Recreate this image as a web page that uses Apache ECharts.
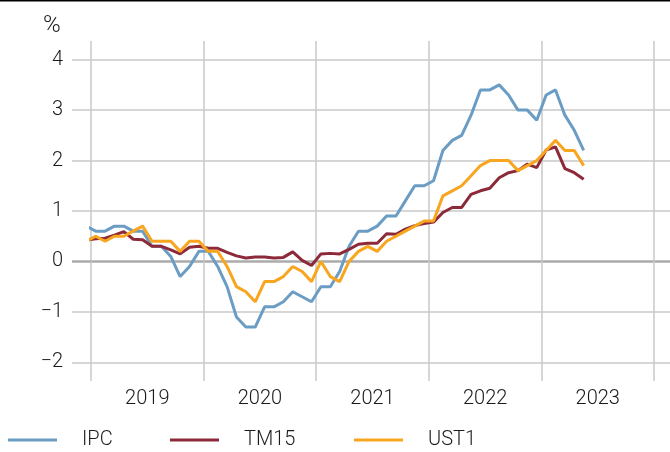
<!DOCTYPE html>
<html>
<head>
<meta charset="utf-8">
<script src="https://cdn.jsdelivr.net/npm/echarts@6/dist/echarts.min.js"></script>
<style>
    html, body {margin: 0; padding: 0; background: #fff;}
    #chart {width: 670px; height: 452px;}
</style>
</head>
<body>
<div id="chart"></div>
<script>
// monthly values, Dec 2018 .. May 2023 (the first point is clipped by the plot edge)
var START_YEAR = 2018, START_MONTH = 12;
var YEARS = ['2019', '2020', '2021', '2022', '2023'];
var Y_TICKS = [-2, -1, 0, 1, 2, 3, 4];

var IPC = [0.7,
    0.6, 0.6, 0.7, 0.7, 0.6, 0.6, 0.3, 0.3, 0.1, -0.3, -0.1, 0.2,
    0.2, -0.1, -0.5, -1.1, -1.3, -1.3, -0.9, -0.9, -0.8, -0.6, -0.7, -0.8,
    -0.5, -0.5, -0.2, 0.3, 0.6, 0.6, 0.7, 0.9, 0.9, 1.2, 1.5, 1.5,
    1.6, 2.2, 2.4, 2.5, 2.9, 3.4, 3.4, 3.5, 3.3, 3.0, 3.0, 2.8,
    3.3, 3.4, 2.9, 2.6, 2.2];
var TM15 = [0.42,
    0.45, 0.46, 0.52, 0.59, 0.44, 0.43, 0.30, 0.30, 0.23, 0.15, 0.28, 0.30,
    0.26, 0.26, 0.18, 0.11, 0.07, 0.09, 0.09, 0.07, 0.08, 0.19, 0.02, -0.08,
    0.15, 0.16, 0.15, 0.24, 0.34, 0.36, 0.36, 0.55, 0.54, 0.64, 0.71, 0.75,
    0.78, 0.97, 1.07, 1.07, 1.33, 1.40, 1.45, 1.66, 1.76, 1.80, 1.93, 1.86,
    2.21, 2.27, 1.84, 1.76, 1.63];
var UST1 = [0.4,
    0.5, 0.4, 0.5, 0.5, 0.6, 0.7, 0.4, 0.4, 0.4, 0.2, 0.4, 0.4,
    0.2, 0.2, -0.1, -0.5, -0.6, -0.8, -0.4, -0.4, -0.3, -0.1, -0.2, -0.4,
    0.0, -0.3, -0.4, 0.0, 0.2, 0.3, 0.2, 0.4, 0.5, 0.6, 0.7, 0.8,
    0.8, 1.3, 1.4, 1.5, 1.7, 1.9, 2.0, 2.0, 2.0, 1.8, 1.9, 2.0,
    2.2, 2.4, 2.2, 2.2, 1.9];

var FONT = 'Roboto';
var FONT_SIZE = 20;
var FONT_WEIGHT = 300;
var TEXT_COLOR = '#1a1a1a';
var GRID_COLOR = '#c9c9c9';
var COLORS = ['#6b9dc4', '#8c2a3a', '#f8a51f'];

// x position in months since Jan 2019, points sit in the middle of the month
function toPoints(values) {
    var out = [];
    values.forEach(function (v, i) {
        var m = (START_YEAR - 2019) * 12 + (START_MONTH - 1) + i;
        out.push([m + 0.5, v]);
    });
    return out;
}

function legendItem(name, left) {
    return {
        left: left,
        top: 430,
        padding: 0,
        icon: 'rect',
        itemWidth: 49,
        itemHeight: 3,
        textStyle: {
            fontFamily: FONT, fontSize: FONT_SIZE, fontWeight: FONT_WEIGHT,
            color: TEXT_COLOR, padding: [0, 0, 0, 20]
        },
        data: [name]
    };
}

var myChart = echarts.init(document.getElementById('chart'));

var option = {
    animation: false,
    color: COLORS,
    graphic: [{
        type: 'rect',
        left: 0,
        top: 0,
        shape: {width: 670, height: 1.5},
        style: {fill: '#000'}
    }, {
        type: 'text',
        left: 43,
        top: 14,
        style: {
            text: '%',
            fontFamily: FONT,
            fontSize: 24,
            fontWeight: FONT_WEIGHT,
            fill: TEXT_COLOR
        }
    }],
    grid: {left: 91, right: 0, top: 41, bottom: 71, containLabel: false},
    legend: [
        legendItem('IPC', 8),
        legendItem('TM15', 170),
        legendItem('UST1', 354)
    ],
    xAxis: {
        type: 'value',
        min: 0,
        max: 61.7,
        axisLine: {show: false},
        axisTick: {show: false, customValues: [0, 12, 24, 36, 48, 60]},
        splitLine: {show: true, lineStyle: {color: GRID_COLOR, width: 1.5}},
        axisLabel: {
            customValues: [6, 18, 30, 42, 54],
            margin: 8,
            fontFamily: FONT,
            fontSize: FONT_SIZE,
            fontWeight: FONT_WEIGHT,
            color: TEXT_COLOR,
            formatter: function (v) {
                return YEARS[Math.floor(v / 12)];
            }
        }
    },
    yAxis: [{
        type: 'value',
        min: -2.37,
        max: 4.37,
        axisLine: {show: false},
        axisTick: {
            show: true,
            length: 19,
            customValues: Y_TICKS.filter(function (t) { return t !== 0; }),
            lineStyle: {color: GRID_COLOR, width: 1.5}
        },
        splitLine: {show: true, lineStyle: {color: GRID_COLOR, width: 1.5}},
        axisLabel: {
            customValues: Y_TICKS,
            margin: 28,
            fontFamily: FONT,
            fontSize: FONT_SIZE,
            fontWeight: FONT_WEIGHT,
            color: TEXT_COLOR,
            formatter: function (v) {
                return v < 0 ? '\u2212' + Math.abs(v) : String(v);
            }
        }
    }, {
        // zero line, darker and thicker
        type: 'value',
        min: -2.37,
        max: 4.37,
        position: 'left',
        axisLine: {show: false},
        axisTick: {show: true, length: 19, customValues: [0], lineStyle: {color: '#ababab', width: 2.5}},
        splitLine: {show: true, lineStyle: {color: '#ababab', width: 2.5}},
        axisLabel: {show: false}
    }],
    series: [
        {
            name: 'IPC',
            type: 'line',
            data: toPoints(IPC),
            symbol: 'none',
            lineStyle: {width: 3}
        },
        {
            name: 'TM15',
            type: 'line',
            data: toPoints(TM15),
            symbol: 'none',
            lineStyle: {width: 3}
        },
        {
            name: 'UST1',
            type: 'line',
            data: toPoints(UST1),
            symbol: 'none',
            lineStyle: {width: 3}
        }
    ]
};
myChart.setOption(option);
</script>
</body>
</html>
